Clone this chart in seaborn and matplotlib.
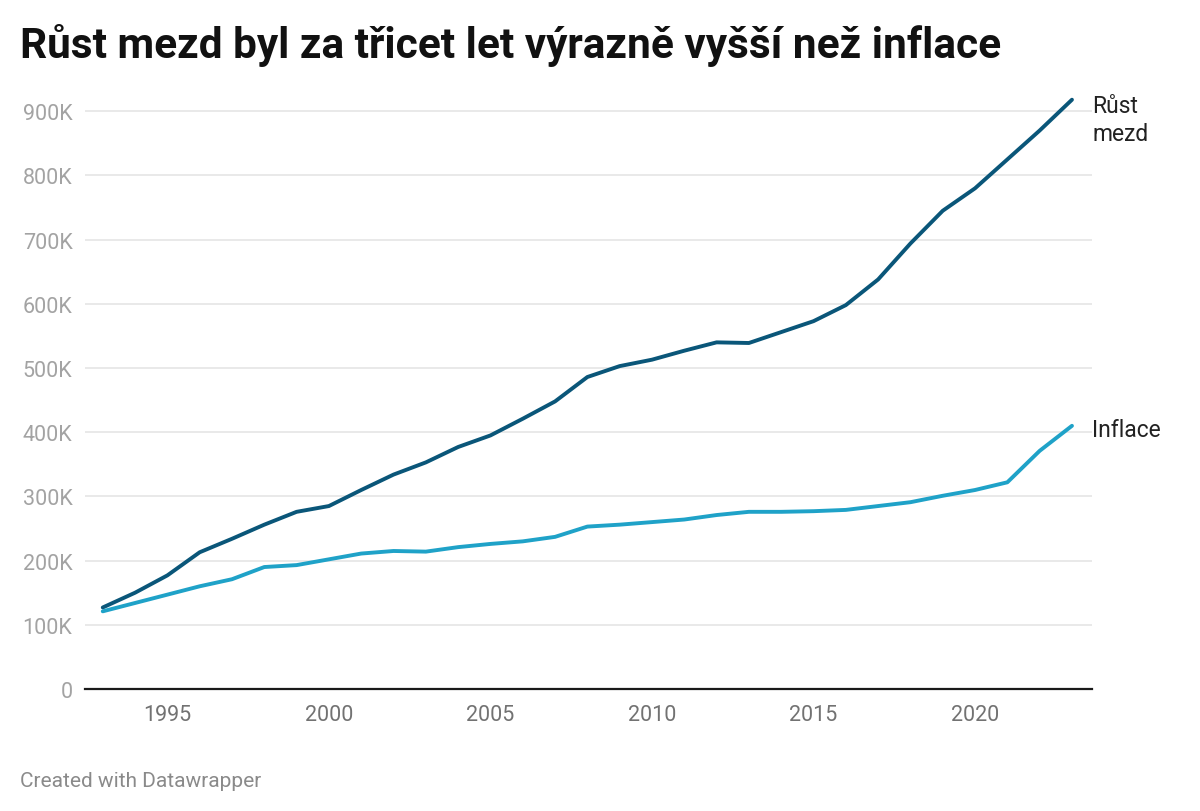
import matplotlib
matplotlib.use("Agg")
import matplotlib.pyplot as plt
import seaborn as sns
import pandas as pd

years = list(range(1993, 2024))
wages = [127000, 150000, 177000, 213000, 234000, 256000, 276000, 285000, 310000, 334000,
         353000, 377000, 395000, 421000, 448000, 486000, 503000, 513000, 527000, 540000,
         539000, 556000, 573000, 598000, 638000, 694000, 745000, 780000, 825000, 870000,
         918000]
inflation = [121000, 134000, 147000, 160000, 171000, 190000, 193000, 202000, 211000, 215000,
             214000, 221000, 226000, 230000, 237000, 253000, 256000, 260000, 264000, 271000,
             276000, 276000, 277000, 279000, 285000, 291000, 301000, 310000, 322000, 371000,
             410000]
series_names = ["Růst mezd", "Inflace"]
series_labels = ["Růst\nmezd", "Inflace"]
y_ticks = [0, 100000, 200000, 300000, 400000, 500000, 600000, 700000, 800000, 900000]
y_tick_labels = ["0", "100K", "200K", "300K", "400K", "500K", "600K", "700K", "800K", "900K"]
x_ticks = [1995, 2000, 2005, 2010, 2015, 2020]
title = "Růst mezd byl za třicet let výrazně vyšší než inflace"
footer = "Created with Datawrapper"

df = pd.DataFrame({
    "year": years * 2,
    "value": wages + inflation,
    "series": [series_names[0]] * len(years) + [series_names[1]] * len(years),
})

sns.set_style("white")
plt.rcParams["font.family"] = ["Roboto", "DejaVu Sans"]

colors = {"Růst mezd": "#0a5679", "Inflace": "#1fa2c8"}

fig = plt.figure(figsize=(12, 8.12), dpi=100)
ax = fig.add_axes([85 / 1200, 1 - 690 / 812, (1092 - 85) / 1200, (690 - 93) / 812])

sns.lineplot(data=df, x="year", y="value", hue="series", palette=colors,
             linewidth=2.8, ax=ax, legend=False, zorder=3)

ax.set_xlim(1992.45, 2023.62)
ax.set_ylim(0, 930000)
ax.set_yticks(y_ticks)
ax.set_yticklabels(y_tick_labels)
ax.set_xticks(x_ticks)
ax.set_xlabel("")
ax.set_ylabel("")
for s in ["top", "right", "left"]:
    ax.spines[s].set_visible(False)
ax.spines["bottom"].set_color("#1a1a1a")
ax.spines["bottom"].set_linewidth(1.6)
ax.spines["bottom"].set_zorder(4)
ax.yaxis.grid(True, color="#e3e3e3", linewidth=1.1)
ax.xaxis.grid(False)
ax.tick_params(axis="y", length=0, pad=9, labelsize=15.5, labelcolor="#a3a3a3")
ax.tick_params(axis="x", length=0, pad=11, labelsize=15.5, labelcolor="#727272")

# direct labels
ax.annotate(series_labels[0], xy=(1.0, wages[-1]), xycoords=("axes fraction", "data"),
            xytext=(0, 6), textcoords="offset pixels", ha="left", va="top",
            fontsize=16.5, color="#222222", linespacing=1.3)
ax.annotate(series_labels[1], xy=(1.0, inflation[-1]), xycoords=("axes fraction", "data"),
            xytext=(0, -4), textcoords="offset pixels", ha="left", va="center",
            fontsize=16.5, color="#222222")

fig.text(20 / 1200, 1 - 58 / 812, title, ha="left", va="baseline",
         fontsize=30.5, fontweight="bold", color="#111111")
fig.text(20 / 1200, 1 - 787 / 812, footer, ha="left", va="baseline",
         fontsize=15, color="#8a8a8a")

fig.savefig("out.png", dpi=100)
